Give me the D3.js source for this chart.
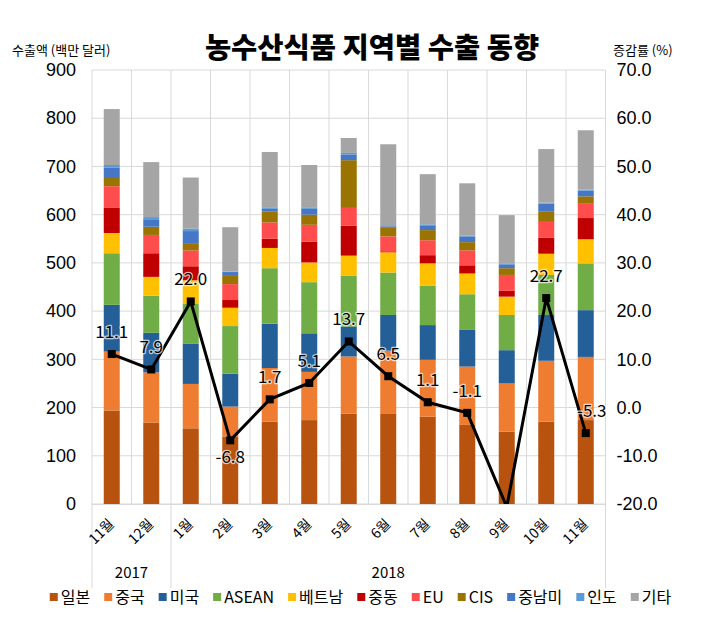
<!DOCTYPE html>
<html><head><meta charset="utf-8">
<script src="https://cdn.jsdelivr.net/npm/d3@7"></script>
<style>
body{margin:0;background:#fff;}
svg{display:block;font-family:"Noto Sans CJK KR","Noto Sans",sans-serif;}
</style></head>
<body><svg id="c" width="704" height="625"></svg>
<script>
// ---- data ----
const months = ["11월","12월","1월","2월","3월","4월","5월","6월","7월","8월","9월","10월","11월"];
const years = ["2017","2018"];
const yearSpans = [2, 11];
const regions = ["일본","중국","미국","ASEAN","베트남","중동","EU","CIS","중남미","인도","기타"];
const japan   = [194,169,157,140,171,174,187,188,181,164,150,171,174];
const china   = [122,104, 92, 62,111,100,119,130,118,121,100,126,131];
const usa     = [ 97, 82, 83, 68, 92, 80, 62, 74, 72, 77, 69, 95, 97];
const asean   = [107, 77, 84, 99,115,106,105, 88, 82, 73, 73, 83, 97];
const vietnam = [ 42, 39, 48, 38, 42, 41, 42, 42, 46, 43, 38, 44, 50];
const mideast = [ 53, 49, 29, 16, 19, 43, 62,  2, 17, 17, 12, 33, 44];
const eu      = [ 44, 38, 33, 33, 34, 35, 37, 31, 31, 31, 33, 33, 31];
const cis     = [ 17, 17, 15, 17, 23, 21, 99, 19, 21, 17, 14, 21, 14];
const latam   = [ 22, 14, 25,  8,  5, 12, 12,  2, 10, 12,  8, 17, 12];
const india   = [  5,  6,  5,  1,  2,  2,  3,  0,  2,  2,  2,  2,  2];
const others  = [116,114,106, 92,116, 89, 31,170,104,108,100,111,123];
const growth  = [11.1,7.9,22.0,-6.8,1.7,5.1,13.7,6.5,1.1,-1.1,-20.6,22.7,-5.3];
const leftTicks = [0,100,200,300,400,500,600,700,800,900];
const rightTicks = [-20,-10,0,10,20,30,40,50,60,70];

const seriesValues = [japan,china,usa,asean,vietnam,mideast,eu,cis,latam,india,others];
const colors = ["#B8530F","#EE7D31","#245F97","#70AD47","#FFC000","#C00000","#FF4D4D","#9A7300","#4577C6","#5B9BD5","#A5A5A5"];

const fmt1 = d3.formatLocale({decimal: ".", thousands: ",", grouping: [3], currency: ["", ""], minus: "-"}).format(".1f");

// ---- layout ----
const svg = d3.select("#c");
const L = 92, R = 605.5, T = 70, B = 504;
const idx = d3.range(months.length);
const x = d3.scaleBand().domain(idx).range([L, R]).padding(0);
const y = d3.scaleLinear().domain([0, 900]).range([B, T]);
const y2 = d3.scaleLinear().domain([-20, 70]).range([B, T]);
const barW = x.bandwidth() * 0.405;

// gridlines
const g = svg.append("g");
g.selectAll(".hg").data(leftTicks).join("line")
  .attr("x1", L).attr("x2", R).attr("y1", d => y(d)).attr("y2", d => y(d))
  .attr("stroke", "#D9D9D9").attr("stroke-width", 1);
g.selectAll(".vg").data(d3.range(months.length + 1)).join("line")
  .attr("x1", d => L + d * x.step()).attr("x2", d => L + d * x.step())
  .attr("y1", T).attr("y2", B)
  .attr("stroke", "#D9D9D9").attr("stroke-width", 1);

// stacked bars
const table = idx.map(i => { const o = {i}; regions.forEach((r, k) => o[r] = seriesValues[k][i]); return o; });
const stack = d3.stack().keys(regions)(table);
svg.append("g").selectAll("g").data(stack).join("g")
  .attr("fill", (d, k) => colors[k])
  .selectAll("rect").data(d => d).join("rect")
  .attr("x", d => x(d.data.i) + (x.bandwidth() - barW) / 2)
  .attr("width", barW)
  .attr("y", d => y(d[1]))
  .attr("height", d => Math.max(0, y(d[0]) - y(d[1])));

// bottom axis line
svg.append("line").attr("x1", L).attr("x2", R).attr("y1", B + 0.5).attr("y2", B + 0.5)
  .attr("stroke", "#D9D9D9");

// group separator lines
let acc = 0;
const sepIdx = [0];
yearSpans.forEach(s => { acc += s; sepIdx.push(acc); });
svg.selectAll(".sep").data(sepIdx).join("line")
  .attr("x1", d => L + d * x.step()).attr("x2", d => L + d * x.step())
  .attr("y1", B).attr("y2", 588).attr("stroke", "#D9D9D9");

// left axis
const la = svg.append("g").attr("transform", `translate(${L},0)`)
  .call(d3.axisLeft(y).tickValues(leftTicks).tickSize(0).tickPadding(16));
la.select(".domain").remove();
la.selectAll("text").attr("font-size", 18).attr("fill", "#000")
  .attr("font-family", "'Liberation Sans',Arial,sans-serif");

// right axis
const ra = svg.append("g").attr("transform", `translate(${R},0)`)
  .call(d3.axisRight(y2).tickValues(rightTicks).tickFormat(fmt1).tickSize(0).tickPadding(11));
ra.select(".domain").remove();
ra.selectAll("text").attr("font-size", 18).attr("fill", "#000")
  .attr("font-family", "'Liberation Sans',Arial,sans-serif");

// x labels
svg.append("g").selectAll("text").data(idx).join("text")
  .attr("transform", i => `translate(${x(i) + x.bandwidth() / 2 + 3},525) rotate(-45)`)
  .attr("text-anchor", "end").attr("font-size", 14).attr("fill", "#000")
  .text(i => months[i]);

// year labels
let start = 0;
years.forEach((yr, k) => {
  const x0 = L + start * x.step(), x1 = L + (start + yearSpans[k]) * x.step();
  svg.append("text").attr("x", (x0 + x1) / 2).attr("y", 578)
    .attr("text-anchor", "middle").attr("font-size", 15).attr("fill", "#000").text(yr);
  start += yearSpans[k];
});

// line
svg.append("defs").append("clipPath").attr("id", "pc")
  .append("rect").attr("x", L).attr("y", T - 10).attr("width", R - L).attr("height", B - T + 10);
const line = d3.line().x((d, i) => x(i) + x.bandwidth() / 2).y(d => y2(d));
svg.append("path").datum(growth).attr("d", line)
  .attr("fill", "none").attr("stroke", "#000").attr("stroke-width", 3)
  .attr("stroke-linejoin", "miter").attr("clip-path", "url(#pc)");
svg.append("g").selectAll("rect").data(growth.map((v, i) => ({v, i})).filter(d => d.v >= -20))
  .join("rect")
  .attr("x", d => x(d.i) + x.bandwidth() / 2 - 4).attr("y", d => y2(d.v) - 4)
  .attr("width", 8).attr("height", 8).attr("fill", "#000");

// data labels
const belowIdx = [3];
svg.append("g").selectAll("text").data(growth.map((v, i) => ({v, i})).filter(d => d.v >= -20))
  .join("text")
  .attr("x", d => x(d.i) + x.bandwidth() / 2 + (d.i === 12 ? 6 : 0))
  .attr("y", d => y2(d.v) + (belowIdx.includes(d.i) ? 23 : -16))
  .attr("text-anchor", "middle").attr("font-size", 17).attr("fill", "#000")
  .attr("stroke", "#fff").attr("stroke-width", 2.5).attr("stroke-opacity", 0.7)
  .attr("paint-order", "stroke").attr("stroke-linejoin", "round")
  .attr("font-family", "'Noto Sans CJK KR',sans-serif")
  .text(d => fmt1(d.v));

// titles
svg.append("text").attr("x", 372).attr("y", 58).attr("text-anchor", "middle")
  .attr("font-size", 28.5).attr("font-weight", 900).attr("fill", "#000")
  .text("농수산식품 지역별 수출 동향");
svg.append("text").attr("x", 12).attr("y", 55).attr("font-size", 13).attr("fill", "#000")
  .text("수출액 (백만 달러)");
svg.append("text").attr("x", 613).attr("y", 55).attr("font-size", 13).attr("fill", "#000")
  .text("증감률 (%)");

// legend
const lg = svg.append("g");
let lx = 0;
const gap = 14;
regions.forEach((r, k) => {
  const it = lg.append("g");
  it.append("rect").attr("x", 0).attr("y", -4).attr("width", 8).attr("height", 8).attr("fill", colors[k]);
  const t = it.append("text").attr("x", 11).attr("y", 6).attr("font-size", 16).attr("fill", "#000").text(r);
  const w = 11 + t.node().getComputedTextLength();
  it.attr("transform", `translate(${lx},597)`);
  lx += w + gap;
});
const totalW = lx - gap;
lg.attr("transform", `translate(${(36 + 685) / 2 - totalW / 2},0)`);
</script></body></html>
